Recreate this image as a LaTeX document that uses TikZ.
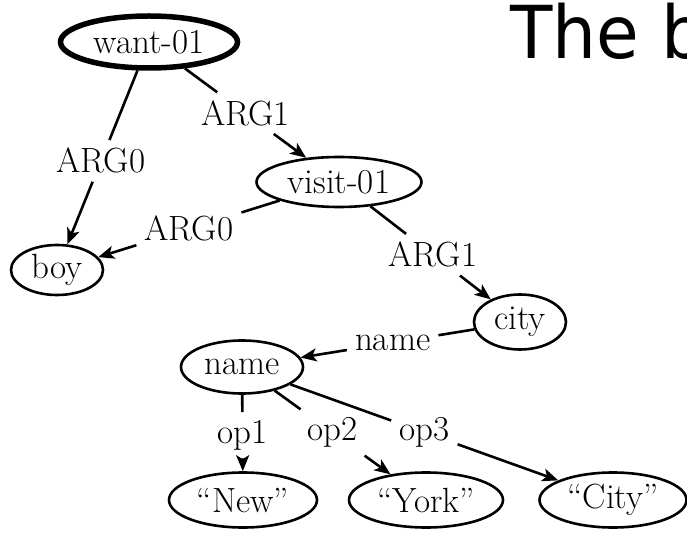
\documentclass[tikz,border=0pt]{standalone}
\usepackage{fontspec}
\newfontfamily\titlefont[FakeStretch=0.95]{DejaVu Sans}
\usetikzlibrary{shapes.geometric,arrows.meta}
\begin{document}
\begin{tikzpicture}[x=1pt,y=-1pt,
  concept/.style={ellipse,draw,line width=2.6pt,inner sep=0pt,font=\fontsize{35}{37}\selectfont},
  lbl/.style={inner sep=8pt,font=\fontsize{35}{37}\selectfont},
  edge/.style={line width=2.6pt},
  arr/.style={line width=2.6pt,-{Stealth[length=16pt,width=13pt,inset=4pt]}}]
\useasboundingbox (0,0) rectangle (687,534);
\node[font=\titlefont\fontsize{73}{80}\selectfont,anchor=base west,inner sep=0pt] (title) at (510,59) {The b};
\node[concept,line width=5.5pt,minimum width=177pt,minimum height=52pt] (want) at (149,42) {want-01};
\node[concept,minimum width=165pt,minimum height=50pt] (visit) at (339,182) {visit-01};
\node[concept,minimum width=92pt,minimum height=50pt] (boy) at (57,270) {boy};
\node[concept,minimum width=92pt,minimum height=55pt] (city) at (520,322) {city};
\node[concept,minimum width=122pt,minimum height=53pt] (name) at (242,367) {name};
\node[concept,minimum width=148pt,minimum height=55pt] (new) at (243,500) {``New''};
\node[concept,minimum width=154pt,minimum height=55pt] (york) at (426,500) {``York''};
\node[concept,minimum width=147pt,minimum height=55pt] (cty) at (613,500) {``City''};
\path (want) -- node[lbl,pos=0.52] (l1) {ARG0} (boy);
\path (want) -- node[lbl] (l2) {ARG1} (visit);
\path (visit) -- node[lbl,pos=0.5] (l3) {ARG0} (boy);
\path (visit) -- node[lbl,pos=0.52] (l4) {ARG1} (city);
\path (city) -- node[lbl,pos=0.47] (l5) {name} (name);
\path (name) -- node[lbl,pos=0.53] (l6) {op1} (new);
\path (name) -- node[lbl,pos=0.5] (l7) {op2} (york);
\path (name) -- node[lbl,pos=0.5] (l8) {op3} (cty);
\draw[edge] (want) -- (l1); \draw[arr] (l1) -- (boy);
\draw[edge] (want) -- (l2); \draw[arr] (l2) -- (visit);
\draw[edge] (visit) -- (l3); \draw[arr] (l3) -- (boy);
\draw[edge] (visit) -- (l4); \draw[arr] (l4) -- (city);
\draw[edge] (city) -- (l5); \draw[arr] (l5) -- (name);
\draw[edge] (name) -- (l6); \draw[arr] (l6) -- (new);
\draw[edge] (name) -- (l7); \draw[arr] (l7) -- (york);
\draw[edge] (name) -- (l8); \draw[arr] (l8) -- (cty);
\end{tikzpicture}
\end{document}
